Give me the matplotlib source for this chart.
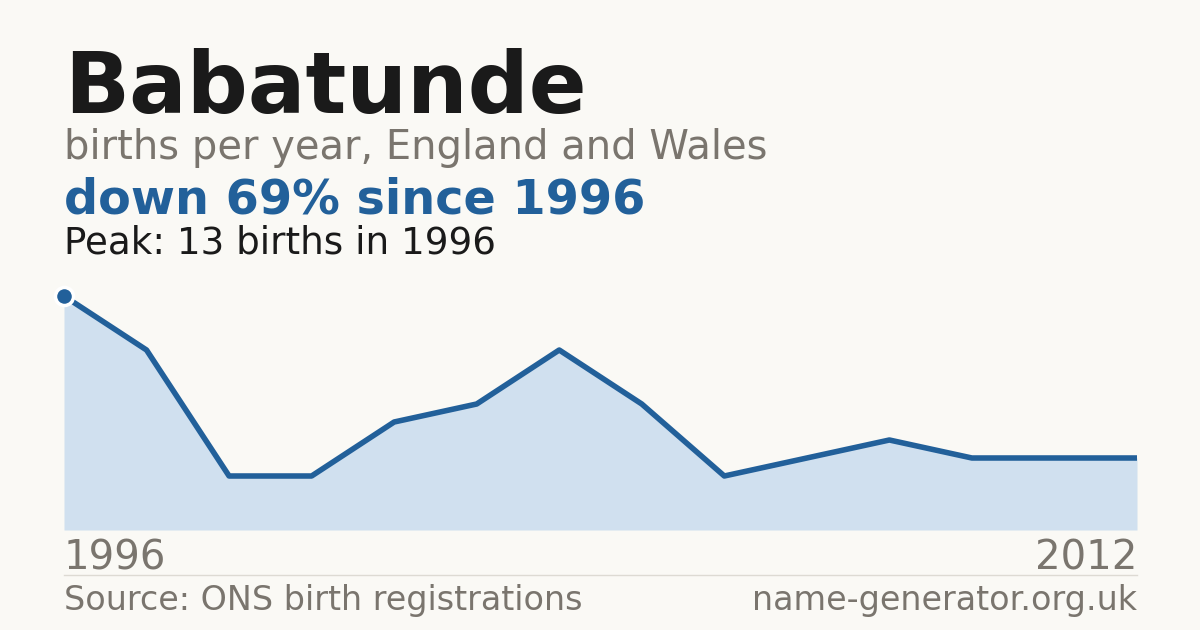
import matplotlib
matplotlib.use("Agg")
from matplotlib import pyplot as plt

# Data
name = "Babatunde"
first_year = 1996
last_year = 2012
births = [13, 10, 3, 3, 6, 7, 10, 7, 3, 4, 5, 4, 4, 4]

BG = "#faf9f5"
BLUE = "#22609a"
FILL = "#d0e0ef"
GREY = "#7a756e"
DARK = "#1a1a1a"

fig = plt.figure(figsize=(12, 6.3), dpi=100, facecolor=BG)

# Titles
fig.text(64 / 1200, 1 - 113 / 630, name, fontsize=61.5, fontweight="bold",
         color=DARK, ha="left", va="baseline")
fig.text(64 / 1200, 1 - 159 / 630, "births per year, England and Wales",
         fontsize=28.8, color=GREY, ha="left", va="baseline")
drop = round((births[0] - births[-1]) / births[0] * 100)
fig.text(64 / 1200, 1 - 214 / 630, f"down {drop}% since {first_year}",
         fontsize=34.4, fontweight="bold", color=BLUE, ha="left", va="baseline")
peak = max(births)
peak_year = first_year
fig.text(64 / 1200, 1 - 253 / 630, f"Peak: {peak} births in {peak_year}",
         fontsize=26.8, color=DARK, ha="left", va="baseline")

# Area chart
ax = fig.add_axes([64 / 1200, 1 - 530 / 630, (1137 - 64) / 1200, (530 - 296) / 630])
ax.set_facecolor(BG)
x = list(range(len(births)))
ax.fill_between(x, births, 0, color=FILL, lw=0)
ax.plot(x, births, color=BLUE, lw=4, solid_joinstyle="round")
ax.plot([0], [births[0]], "o", ms=13, color=BLUE, mec="white", mew=2.5,
        clip_on=False, zorder=5)
ax.set_xlim(0, len(births) - 1)
ax.set_ylim(0, peak)
ax.axis("off")

# Year labels
fig.text(64 / 1200, 1 - 570 / 630, str(first_year), fontsize=29, color=GREY,
         ha="left", va="baseline")
fig.text(1137 / 1200, 1 - 570 / 630, str(last_year), fontsize=29, color=GREY,
         ha="right", va="baseline")

# Separator and footer
fig.add_artist(plt.Line2D([64 / 1200, 1137 / 1200], [1 - 575 / 630] * 2,
                          color="#dddad3", lw=1))
fig.text(64 / 1200, 1 - 610 / 630, "Source: ONS birth registrations",
         fontsize=24, color=GREY, ha="left", va="baseline")
fig.text(1137 / 1200, 1 - 610 / 630, "name-generator.org.uk",
         fontsize=24, color=GREY, ha="right", va="baseline")

fig.savefig("out.png", dpi=100, facecolor=BG)
